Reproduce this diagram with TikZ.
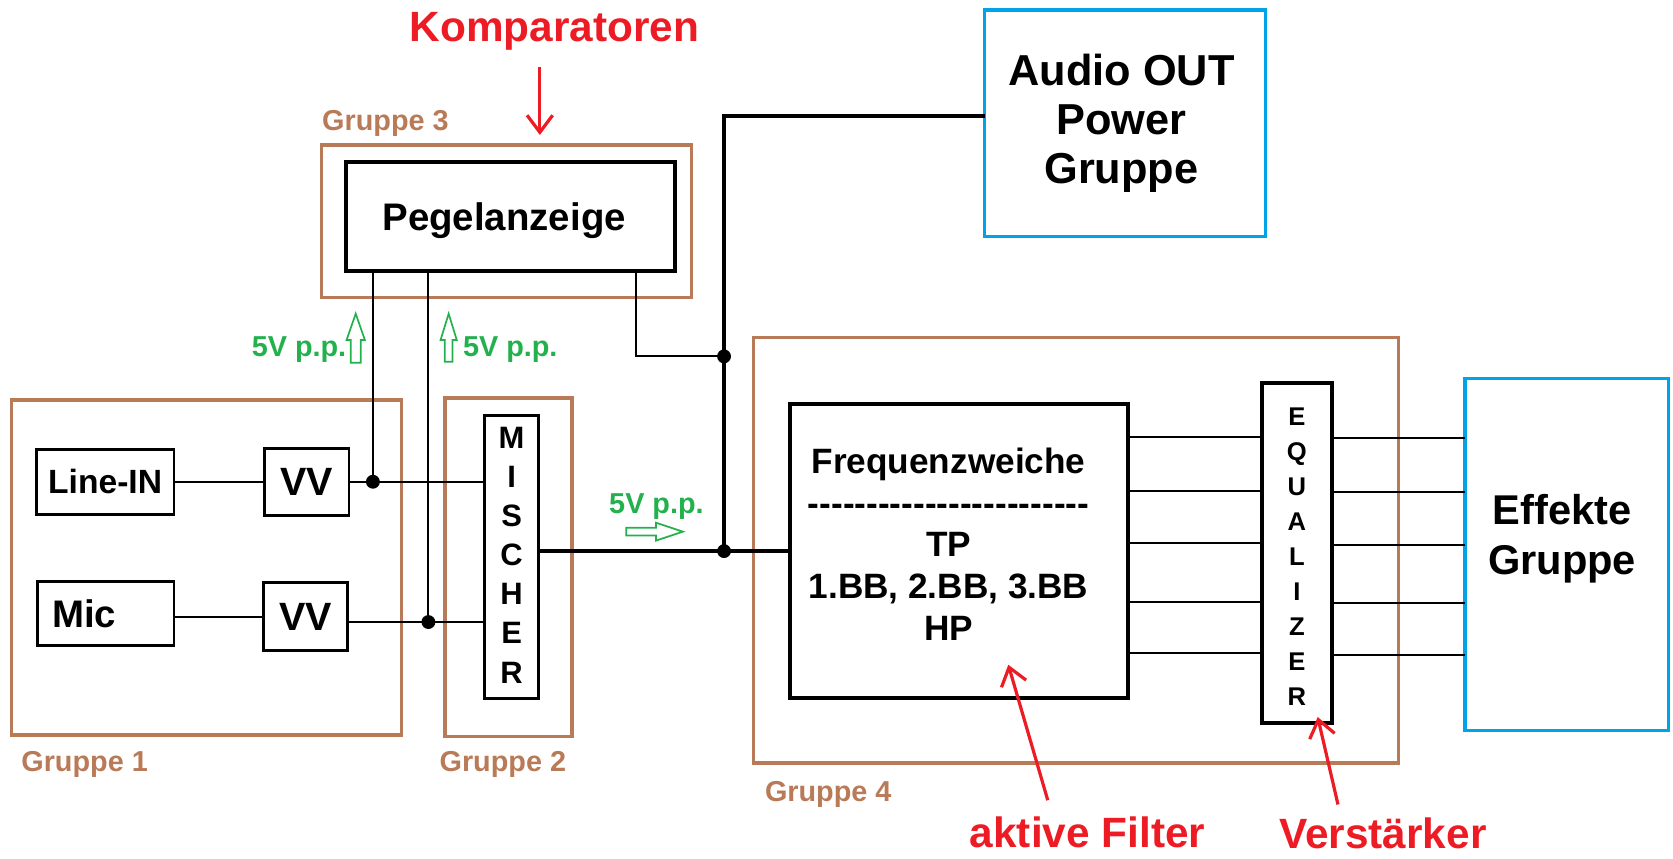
\documentclass[tikz,border=0pt]{standalone}
\usepackage{fontspec}
\setmainfont{Liberation Sans}
\usetikzlibrary{arrows.meta,calc}
\definecolor{cred}{HTML}{ED1C24}
\definecolor{cgreen}{HTML}{22B14C}
\definecolor{cbrown}{HTML}{B97A57}
\definecolor{ccyan}{HTML}{00A2E8}
\newcommand\fsz[2]{\fontsize{#1}{#2}\selectfont\bfseries}
\newcommand\hy{\hbox{-}}
\newcommand\hyx{\hy\hy\hy\hy\hy\hy\hy\hy}
\begin{document}
\begin{tikzpicture}[x=1pt,y=-1pt,
  every node/.style={inner sep=0pt, outer sep=0pt},
  sz/.style 2 args={minimum width=#1, minimum height=#2},
  grp/.style={draw=cbrown, line width=3.1pt},
  blk/.style={draw=black, line width=2.6pt},
  thk/.style={draw=black, line width=3.8pt},
  cyb/.style={draw=ccyan, line width=2.9pt},
  wire/.style={line width=2pt},
  bus/.style={line width=3pt},
  dot/.style={circle, fill=black, minimum size=13pt},
  gl/.style={text=cbrown, font=\fsz{27}{32}},
  rl/.style={text=cred, font=\fsz{39.7}{46}},
  vl/.style={text=cgreen, font=\fsz{27}{32}},
  garrow/.style={draw=cgreen, line width=1.6pt, line join=miter},
  rarrow/.style={draw=cred, line width=3pt, -{Straight Barb[length=16pt, width=24pt]}}
]
\useasboundingbox (0,0) rectangle (1568,805);

% group frames
\node[grp, sz={365pt}{314pt}] (g1) at (193.5,532) {};
\node[grp, sz={119pt}{317pt}] (g2) at (476.5,531.5) {};
\node[grp, sz={347pt}{143pt}] (g3) at (474.5,207.5) {};
\node[grp, sz={605pt}{399pt}] (g4) at (1008.5,515.5) {};
\node[gl, anchor=base west] (g1l) at (20,723) {Gruppe 1};
\node[gl, anchor=base west] (g2l) at (412,723) {Gruppe 2};
\node[gl, anchor=base west] (g3l) at (302,122) {Gruppe 3};
\node[gl, anchor=base west] (g4l) at (717,751) {Gruppe 4};

% blocks
\node[thk, sz={309pt}{102pt}, font=\fsz{36}{40}, text height=25.8pt, text depth=0pt] (pegel) at (478.5,203) {Pegelanzeige\hspace*{12pt}};
\node[blk, sz={129pt}{61pt}, font=\fsz{31.5}{36}, text height=22.6pt, text depth=0pt] (linein) at (98.5,451.5) {Line-IN};
\node[blk, sz={79pt}{63pt}, font=\fsz{37}{40}, text height=26.5pt, text depth=0pt] (vv1) at (287.5,451.5) {VV};
\node[blk, sz={128pt}{60pt}, font=\fsz{36}{40}, text height=25.8pt, text depth=0pt, text width=100pt, align=left, inner xsep=14pt] (mic) at (99,575) {Mic};
\node[blk, sz={79pt}{64pt}, font=\fsz{37}{40}, text height=26.5pt, text depth=0pt] (vv2) at (286.5,578) {VV};
\node[blk, line width=2.9pt, sz={51pt}{265pt}] (mischer) at (479.5,522.3) {};
\node[font=\fsz{29}{36.7}, align=center, anchor=north] (mischert) at (479.5,400) {M\\I\\S\\C\\H\\E\\R};
\node[thk, sz={65pt}{319pt}] (eq) at (1215.5,518.5) {};
\node[font=\fsz{24}{32.8}, align=center, anchor=north] (eqt) at (1215.5,382.5) {E\\Q\\U\\A\\L\\I\\Z\\E\\R};
\node[thk, sz={317pt}{275pt}] (freq) at (898.5,516.5) {};
\node[font=\fsz{33}{39.3}, align=center, anchor=north] (freqt) at (889,419.5) {Frequenzweiche\\\hyx\hyx\hyx\\TP\\1.BB, 2.BB, 3.BB\\HP};
\node[cyb, sz={263pt}{212.6pt}] (audio) at (1054.5,115.7) {};
\node[font=\fsz{40.6}{46}, align=center, anchor=north] (audiot) at (1051,51) {Audio OUT\\Power\\Gruppe};
\node[cyb, sz={191pt}{330pt}] (eff) at (1468.5,520) {};
\node[font=\fsz{39}{47}, align=center, anchor=north] (efft) at (1464,463.5) {Effekte\\Gruppe};

% red annotations
\node[rl, anchor=base west] (komp) at (384,39) {Komparatoren};
\node[rl, anchor=base west] (akt) at (909,794) {aktive Filter};
\node[rl, anchor=base west] (verst) at (1199,795) {Verst\"arker};
\coordinate (ka) at (506,62.5);
\coordinate (kb) at (506,126.5);
\coordinate (fa) at (982,750);
\coordinate (fb) at (945,623);
\coordinate (va) at (1254,754);
\coordinate (vb) at (1235,672);
\draw[rarrow] (ka) -- (kb);
\draw[rarrow] (fa) -- (fb);
\draw[rarrow] (va) -- (vb);

% green annotations
\node[vl, anchor=base west] (v1) at (236,334) {5V p.p.};
\node[vl, anchor=base west] (v2) at (434,334) {5V p.p.};
\node[vl, anchor=base west] (v3) at (571,481) {5V p.p.};
\draw[garrow] (333.4,294) -- (342,318.7) -- (338.1,318.7) -- (338.1,340) -- (328.7,340) -- (328.7,318.7) -- (324.8,318.7) -- cycle;
\draw[garrow] (420.5,294) -- (428.1,318.7) -- (424.1,318.7) -- (424.1,339) -- (416.9,339) -- (416.9,318.7) -- (412.9,318.7) -- cycle;
\draw[garrow] (640,498.3) -- (614.8,489.9) -- (614.8,494.7) -- (587,494.7) -- (587,501.9) -- (614.8,501.9) -- (614.8,506.7) -- cycle;

% wiring
\coordinate (p1) at ($(pegel.south west)+(25.5,0)$);
\coordinate (p2) at ($(pegel.south west)+(77.5,0)$);
\coordinate (p3) at ($(pegel.south west)+(272,0)$);
\coordinate (vv2o) at ($(vv2.east)+(0,5)$);
\coordinate (j1) at (p1 |- vv1.east);
\coordinate (j2) at (p2 |- vv2o);
\coordinate (at) at ($(audio.west)+(0,-7)$);
\coordinate (bt) at ($(at)+(-244.4,0)$);
\coordinate (bm) at (bt |- freq.west);
\coordinate (bj) at ($(bt)+(0,225.3)$);

\draw[wire] (linein.east) -- (vv1.west);
\draw[wire] (vv1.east) -- (mischer.west |- vv1.east);
\draw[wire] (mic.east |- vv2.west) -- (vv2.west);
\draw[wire] (vv2o) -- (mischer.west |- vv2o);
\draw[wire] (p1) -- (j1);
\draw[wire] (p2) -- (j2);
\draw[wire] (p3) |- (bj);
\draw[bus] (at) -- (bt) -- (bm);
\draw[bus] (mischer.east |- freq.west) -- (freq.west);
\foreach \y [count=\i] in {409.3,459.9,509.2,563.9,612.3} {
  \coordinate (fl\i) at (0,\y);
  \coordinate (fr\i) at (0,\y+1.5);
  \draw[wire] (freq.east |- fl\i) -- (eq.west |- fl\i);
  \draw[wire] (eq.east |- fr\i) -- (eff.west |- fr\i);
}
\node[dot] (d1) at (j1) {};
\node[dot] (d2) at (j2) {};
\node[dot] (d3) at (bj) {};
\node[dot] (d4) at (bm) {};
\end{tikzpicture}
\end{document}
